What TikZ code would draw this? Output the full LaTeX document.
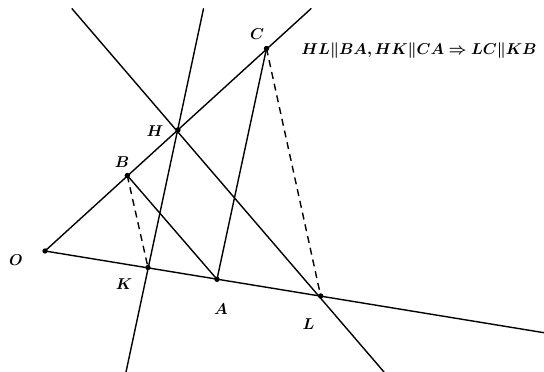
\documentclass[tikz,border=0pt]{standalone}
\usepackage{amsmath}
\usepackage{bm}
\usepackage{graphicx}
\newcommand{\lbl}[1]{\scalebox{1.09}{$\bm{#1}$}}
\begin{document}
\begin{tikzpicture}[x=1pt,y=-1pt,
  ln/.style={line width=1.4pt,line cap=round},
  dsh/.style={line width=1.4pt,dash pattern=on 7pt off 5pt},
  pt/.style={circle,fill=black,inner sep=0pt,minimum size=5.4pt},
  lab/.style={inner sep=0pt,font=\fontsize{14.4}{17}\selectfont}]
\useasboundingbox (0,0) rectangle (544,372);
% points
\coordinate (O) at (45,251);
\coordinate (K) at (148,267.5);
\coordinate (A) at (217,279.3);
\coordinate (L) at (320.7,296);
\coordinate (B) at (127.3,175.5);
\coordinate (H) at (178,130);
\coordinate (C) at (266.5,48.5);
% line ends
\coordinate (Oend) at (544,332.7);
\coordinate (Cend) at (311,8.7);
\coordinate (HLtop) at (72,8.7);
\coordinate (HLbot) at (384,372);
\coordinate (KHtop) at (203.5,8.7);
\coordinate (KHbot) at (126,372);
% lines
\draw[ln] (O) -- (Oend);
\draw[ln] (O) -- (Cend);
\draw[ln] (HLtop) -- (HLbot);
\draw[ln] (KHtop) -- (KHbot);
\draw[ln] (B) -- (A);
\draw[ln] (A) -- (C);
\draw[dsh] (B) -- (K);
\draw[dsh] (C) -- (L);
% dots
\foreach \p in {O,K,A,L,B,H,C} \node[pt] (d\p) at (\p) {};
% labels
\node[lab] (lO) at (16,260) {\lbl{O}};
\node[lab] (lB) at (122,162) {\lbl{B}};
\node[lab] (lH) at (155,131) {\lbl{H}};
\node[lab] (lC) at (257,34) {\lbl{C}};
\node[lab] (lK) at (124,284) {\lbl{K}};
\node[lab] (lA) at (221,309) {\lbl{A}};
\node[lab] (lL) at (308.5,324.5) {\lbl{L}};
\node[lab] (eq) at (419,51) {\lbl{HL\|BA, HK\|CA \Rightarrow LC\|KB}};
\end{tikzpicture}
\end{document}
